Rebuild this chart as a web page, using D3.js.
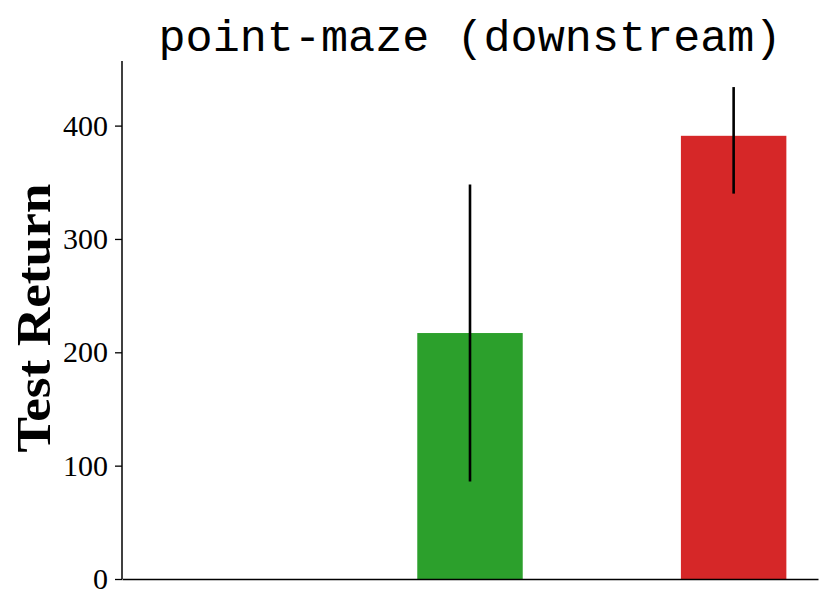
<!DOCTYPE html>
<html>
<head>
<meta charset="utf-8">
<script src="https://cdn.jsdelivr.net/npm/d3@7"></script>
<style>
  html, body { margin: 0; padding: 0; background: #ffffff; }
  svg { display: block; }
</style>
</head>
<body>
<svg id="chart" width="831" height="612"></svg>
<script>
// ---- data ----
const categories = ["A", "B", "C"];
const means = [0, 217, 391];
const errLow = [0, 86, 340];
const errHigh = [0, 348, 434];
const colors = ["#1f77b4", "#2ca02c", "#d62728"];
const yTicks = [0, 100, 200, 300, 400];
const titleText = "point-maze (downstream)";
const yLabel = "Test Return";

const rows = categories.map((c, i) => ({ idx: i, cat: c, mean: means[i], lo: errLow[i], hi: errHigh[i], color: colors[i] }));

// ---- layout ----
const W = 831, H = 612;
const m = { left: 122, right: 13, top: 61, bottom: 33 };
const svg = d3.select("#chart");

const barWidth = 0.4;
const x = d3.scaleLinear()
  .domain([-0.32, categories.length - 1 + 0.32])
  .range([m.left, W - m.right]);
const y = d3.scaleLinear()
  .domain([0, 457])
  .range([H - m.bottom, m.top]);

// bars
svg.append("g").selectAll("rect")
  .data(rows)
  .join("rect")
  .attr("x", d => x(d.idx - barWidth / 2))
  .attr("width", d => x(d.idx + barWidth / 2) - x(d.idx - barWidth / 2))
  .attr("y", d => y(d.mean))
  .attr("height", d => y(0) - y(d.mean))
  .attr("fill", d => d.color);

// error bars
svg.append("g").selectAll("line")
  .data(rows.filter(d => d.hi > d.lo))
  .join("line")
  .attr("x1", d => x(d.idx))
  .attr("x2", d => x(d.idx))
  .attr("y1", d => y(d.lo))
  .attr("y2", d => y(d.hi))
  .attr("stroke", "#000")
  .attr("stroke-width", 2.6);

// y axis
const yAxis = d3.axisLeft(y).tickValues(yTicks).tickSize(7).tickPadding(7).tickFormat(d3.format("d"));
const gy = svg.append("g").attr("transform", `translate(${m.left},0)`).call(yAxis);
gy.select(".domain").attr("stroke", "#000").attr("stroke-width", 1.5)
  .attr("d", `M0,${y(0)}V${m.top}`);
gy.selectAll(".tick line").attr("stroke", "#000").attr("stroke-width", 1.3);
gy.selectAll(".tick text")
  .attr("fill", "#000")
  .style("font-family", "'Liberation Serif', 'DejaVu Serif', serif")
  .style("font-size", "30px");

// x axis (no ticks)
const xAxis = d3.axisBottom(x).tickValues([]).tickSizeOuter(0);
const gx = svg.append("g").attr("transform", `translate(0,${y(0)})`).call(xAxis);
gx.select(".domain").attr("stroke", "#000").attr("stroke-width", 1.5);

// title
svg.append("text")
  .attr("x", (m.left + W - m.right) / 2)
  .attr("y", 51)
  .attr("text-anchor", "middle")
  .style("font-family", "'Liberation Mono', 'DejaVu Sans Mono', monospace")
  .style("font-size", "44px")
  .attr("textLength", 623)
  .attr("lengthAdjust", "spacingAndGlyphs")
  .attr("fill", "#000")
  .text(titleText);

// y label
svg.append("text")
  .attr("transform", `translate(50,318) rotate(-90)`)
  .attr("text-anchor", "middle")
  .style("font-family", "'Liberation Serif', 'DejaVu Serif', serif")
  .style("font-weight", "bold")
  .style("font-size", "48px")
  .attr("textLength", 269)
  .attr("lengthAdjust", "spacingAndGlyphs")
  .attr("fill", "#000")
  .text(yLabel);
</script>
</body>
</html>
